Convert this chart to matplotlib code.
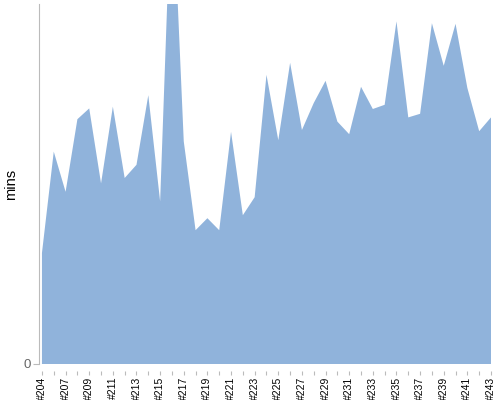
import matplotlib
matplotlib.use("Agg")
import matplotlib.pyplot as plt

plt.rcParams["font.family"] = ["Liberation Sans", "DejaVu Sans"]

builds = [204] + list(range(206, 244))
mins = [18.5, 35.4, 28.7, 40.8, 42.6, 30.1, 42.9, 31.0, 33.2, 44.8,
        27.1, 82.3, 37.1, 22.3, 24.3, 22.3, 38.7, 24.8, 27.8, 48.2,
        37.3, 50.2, 39.0, 43.5, 47.2, 40.4, 38.3, 46.2, 42.5, 43.2,
        57.1, 41.1, 41.7, 56.8, 49.7, 56.7, 46.0, 38.8, 41.1]
labels = ["#%d" % b for b in builds]

fig = plt.figure(figsize=(5, 4), dpi=100)
ax = fig.add_axes([0.078, 0.09, 0.904, 0.90])
x = list(range(len(mins)))
ax.fill_between(x, 0, mins, color="#90b3db", linewidth=0)
ax.set_xlim(-0.25, len(mins) - 1)
ax.set_ylim(0, 60)

# spine position first, it resets the ticks
for s in ["top", "right"]:
    ax.spines[s].set_visible(False)
ax.spines["bottom"].set_position(("outward", 5))
ax.spines["bottom"].set_visible(False)
ax.spines["left"].set_color("#bbbbbb")

ax.set_yticks([0])
ax.set_yticklabels(["0"], color="#666666", fontsize=9.5)
ax.tick_params(axis="y", length=4, color="#bbbbbb", pad=2)
ax.set_xticks(x)
ax.set_xticklabels([l if i % 2 == 0 else "" for i, l in enumerate(labels)],
                   rotation=90, fontsize=7.5, color="#000000")
ax.tick_params(axis="x", length=3, color="#bbbbbb", pad=1)

ax.set_ylabel("mins", fontsize=10.5, labelpad=4)

fig.savefig("out.png")
